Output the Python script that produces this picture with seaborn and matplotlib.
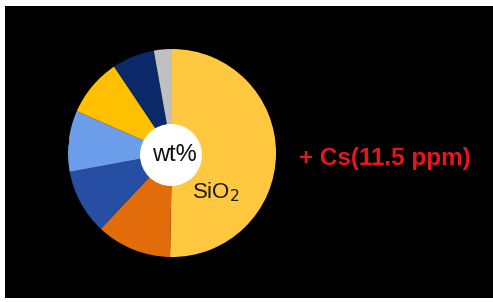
import matplotlib
matplotlib.use("Agg")
import matplotlib.pyplot as plt
import seaborn as sns
from matplotlib.patches import Rectangle, Circle

# Data (wt%)
oxides = ["SiO2", "Al2O3", "FeO", "MgO", "CaO", "Na2O", "Other"]
values = [50.3, 11.7, 10.1, 9.5, 9.0, 6.6, 2.8]
slice_colors = ["#FFC83F", "#E36C0A", "#264EA2", "#6C9DEB", "#FFC000", "#0B2868", "#C0C0C0"]
center_label = "wt%"
note_text = "+ Cs(11.5 ppm)"

sns.set_theme(style="white")
plt.rcParams['font.family'] = ['Liberation Sans', 'DejaVu Sans']
palette = sns.color_palette(slice_colors)

W, H = 493, 302
fig = plt.figure(figsize=(W / 100, H / 100), dpi=100, facecolor="white")
ax = fig.add_axes([0, 0, 1, 1])
ax.set_xlim(0, W)
ax.set_ylim(0, H)
ax.set_aspect("equal")
ax.axis("off")

ax.add_patch(Rectangle((5, 4), 490, 292, facecolor="black", edgecolor="none", zorder=0))

cx, cy, r = 172, 149, 104
ax.pie(values, colors=palette, startangle=90, counterclock=False,
       center=(cx, cy), radius=r, frame=True,
       wedgeprops=dict(linewidth=0, zorder=2))
ax.set_xlim(0, W)
ax.set_ylim(0, H)
ax.axis("off")

ax.add_patch(Circle((cx - 1, cy - 2), 31, facecolor="white", edgecolor="none", zorder=5))
ax.text(cx + 2, cy - 2, center_label, ha="center", va="center", fontsize=17,
        color="#111111", zorder=6)
ax.text(216, H - 192, "SiO$_2$", ha="center", va="center", fontsize=16,
        color="#1a1a1a", zorder=6)
ax.text(70, H - 143, "MgO", ha="right", va="center", fontsize=16,
        color="#000000", zorder=6)

ax.text(385, H - 158, note_text, ha="center", va="center", fontsize=17.5,
        fontweight="bold", color="#E8161B", zorder=6)

fig.savefig("out.png", dpi=100, facecolor="white")
